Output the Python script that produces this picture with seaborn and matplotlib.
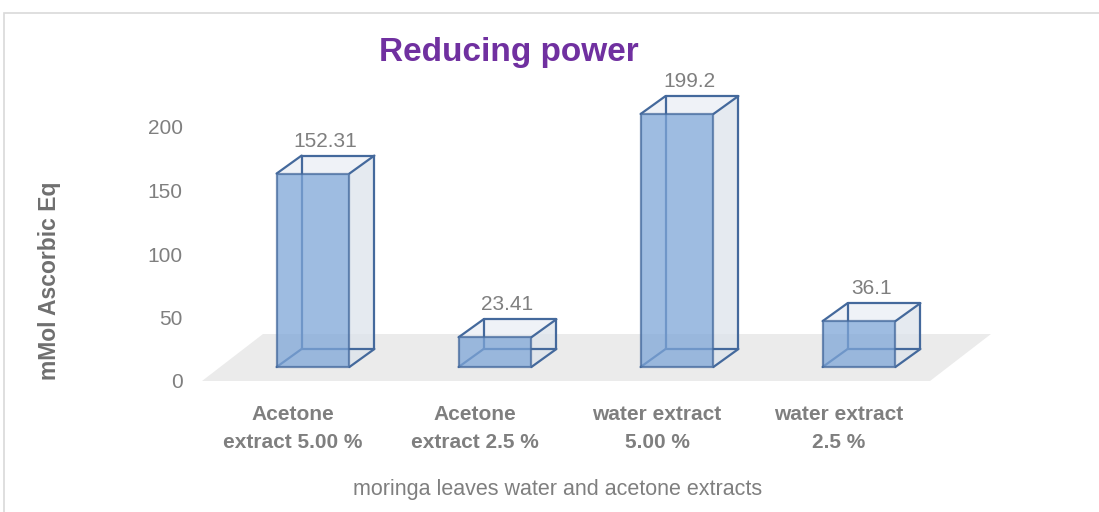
import matplotlib
matplotlib.use("Agg")
import matplotlib.pyplot as plt
from matplotlib.patches import Polygon, Rectangle
from matplotlib.lines import Line2D
import seaborn as sns
import pandas as pd
import numpy as np

# données du graphique
categories = ["Acetone\nextract 5.00 %", "Acetone\nextract 2.5 %",
              "water extract\n5.00 %", "water extract\n2.5 %"]
values = [152.31, 23.41, 199.2, 36.1]
value_labels = ["152.31", "23.41", "199.2", "36.1"]
y_ticks = [0, 50, 100, 150, 200]

# style
sns.set_theme(style="white")
plt.rcParams['font.family'] = ['Liberation Sans', 'DejaVu Sans']

grey = "#7f7f7f"
edge = "#44699c"

W, H = 1099, 512
fig = plt.figure(figsize=(W / 100, H / 100), dpi=100)
ax = fig.add_axes([202 / W, 131 / H, 728 / W, 254 / H])

df = pd.DataFrame({"extract": categories, "value": values})
sns.barplot(data=df, x="extract", y="value", color="#7ea6d8", width=0.4,
            saturation=1, ax=ax, zorder=5)

ax.set_xlim(-0.5, 3.5)
ax.set_ylim(0, 200)
ax.set_yticks(y_ticks)
ax.tick_params(axis="y", length=0, pad=14, labelsize=15, labelcolor=grey)
ax.tick_params(axis="x", length=0, pad=17, labelsize=15, labelcolor=grey)
for lab in ax.get_xticklabels():
    lab.set_fontweight("bold")
    lab.set_linespacing(1.6)
ax.set_xlabel("")
ax.set_ylabel("")
sns.despine(ax=ax, left=True, bottom=True)
ax.patch.set_alpha(0)

# décalages 3D en pixels
shift = np.array([20, 14])
depth = np.array([25, 18])
floor_depth = np.array([61, 47])

fig.canvas.draw()
to_px = ax.transData.transform

# sol gris
x0, x1 = ax.get_xlim()
fl = to_px([(x0, 0), (x1, 0)])
floor = np.array([fl[0], fl[1], fl[1] + floor_depth, fl[0] + floor_depth])
fig.patches.append(Polygon(floor, closed=True, transform=None, facecolor="#ebebeb",
                           edgecolor="none", zorder=0, figure=fig))

for p, lbl in zip(ax.patches, value_labels):
    bx, bw, bh = p.get_x(), p.get_width(), p.get_height()
    bl, br, tr, tl = to_px([(bx, 0), (bx + bw, 0), (bx + bw, bh), (bx, bh)]) + shift
    Bbl, Bbr, Btr, Btl = bl + depth, br + depth, tr + depth, tl + depth

    # faces arrière et latérales
    for poly, fc in [([br, Bbr, Btr, tr], "#dde3ec"), ([tl, tr, Btr, Btl], "#eaeef5")]:
        fig.patches.append(Polygon(poly, closed=True, transform=None, facecolor=fc,
                                   alpha=0.75, edgecolor="none", zorder=2, figure=fig))
    for a, b in [(Bbl, Bbr), (Bbl, Btl), (Btl, Btr), (Btr, Bbr),
                 (bl, Bbl), (br, Bbr), (tl, Btl), (tr, Btr)]:
        fig.lines.append(Line2D([a[0], b[0]], [a[1], b[1]], transform=None, color=edge,
                                lw=1.6, zorder=3, figure=fig))
    # face avant
    fig.patches.append(Polygon([bl, br, tr, tl], closed=True, transform=None,
                               facecolor="#7ea6d8", alpha=0.75, edgecolor=edge, lw=1.6,
                               zorder=4, figure=fig))
    p.set_visible(False)

    cx = (tl[0] + tr[0]) / 2 + depth[0] / 2
    fig.text(cx / W, (Btl[1] + 5) / H, lbl, ha="center", va="bottom", fontsize=15, color=grey)

fig.text(509 / W, 1 - 52 / H, "Reducing power", ha="center", va="center",
         fontsize=24, fontweight="bold", color="#7030a0")
fig.text(558 / W, 1 - 490 / H, "moringa leaves water and acetone extracts",
         ha="center", va="center", fontsize=15.5, color=grey)
fig.text(50 / W, 1 - 281 / H, "mMol Ascorbic Eq", rotation=90, ha="center", va="center",
         fontsize=16.5, fontweight="bold", color="#6f6f6f")

# cadre du graphique
fig.patches.append(Rectangle((4 / W, -0.1), 1.1, 1.1 - 13 / H, transform=fig.transFigure,
                             facecolor="none", edgecolor="#d9d9d9", lw=1.2, figure=fig))

fig.savefig("out.png", dpi=100)
